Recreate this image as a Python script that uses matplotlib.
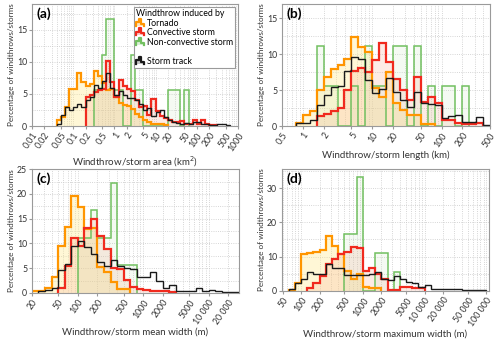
import numpy as np
import matplotlib
matplotlib.use("Agg")
import matplotlib.pyplot as plt
from matplotlib.lines import Line2D
from matplotlib.patches import Polygon
from matplotlib.legend_handler import HandlerBase
from matplotlib.ticker import FixedLocator, FixedFormatter, LogLocator, NullFormatter, MultipleLocator

plt.rcParams['font.family'] = ['Lato', 'DejaVu Sans']

# ---- data: histograms on log10 bins of 0.1 decade; *_start = log10 of first bin edge ----
# (a) windthrow/storm area (km2)
a_tornado_start = -1.4
a_tornado = [0.9, 1.4, 3.0, 5.7, 5.7, 8.3, 6.8, 6.2, 6.6, 8.6, 7.8, 6.7, 5.6, 5.7, 4.6,
             3.6, 3.3, 3.2, 2.6, 1.9, 1.4, 1.0, 0.7, 0.4, 0.4, 0.3, 0.2]
a_conv_start = -0.7
a_conv = [4.5, 4.9, 5.3, 5.6, 5.8, 10.2, 6.8, 4.6, 7.2, 6.3, 5.7, 5.5, 4.1, 3.0, 3.1, 1.8,
          4.2, 2.4, 1.5, 1.2, 0.9, 0.7, 0.7, 0.8, 0.4, 0.4, 0.9, 0.4, 1.0, 0.4, 0.2, 0.2]
a_nonconv_start = -0.5
a_nonconv = [5.6, 5.6, 11.1, 16.7, 16.7, 5.6, 5.6, 0, 0, 11.1, 5.6, 5.6, 0, 0, 0, 0, 0, 0,
             5.6, 5.6, 5.6, 0, 5.6]
a_track_start = -1.4
a_track = [0.3, 1.8, 2.9, 2.5, 3.0, 3.4, 3.0, 4.0, 4.6, 6.4, 6.0, 7.0, 8.2, 5.9, 4.9, 5.4,
           4.8, 4.4, 4.3, 4.0, 3.4, 2.5, 2.8, 1.6, 2.2, 2.5, 1.4, 0.9, 0.6, 0.5, 0.3, 0.5,
           0.3, 0.6, 0.7, 0.3, 0.4, 0.2, 0.2, 0.3, 0.3, 0.2]

# (b) windthrow/storm length (km)
b_tornado_start = -0.1
b_tornado = [0.5, 1.6, 2.1, 5.0, 6.8, 7.9, 8.5, 9.3, 12.4, 11.0, 10.3, 5.3, 4.1, 7.5, 3.2,
             2.3, 1.5, 1.5, 0.3, 0.3]
b_conv_start = 0.2
b_conv = [1.4, 1.65, 2.1, 2.5, 5.0, 7.7, 8.1, 7.5, 9.2, 11.6, 8.9, 6.5, 5.0, 3.7, 6.8, 3.4,
          4.1, 3.2, 0.8, 0.8, 0.5, 0.3, 0.3, 0.5]
b_nonconv_start = 0.2
b_nonconv = [11.1, 5.6, 5.6, 0, 0, 5.6, 0, 11.1, 5.6, 5.6, 0, 11.1, 11.1, 0, 11.1, 0,
             5.6, 0, 5.6, 5.6, 0, 5.6]
b_track_start = -0.1
b_track = [0.4, 0.4, 0.9, 2.9, 4.3, 5.4, 5.6, 7.7, 9.6, 9.3, 6.4, 4.6, 5.2, 6.7, 4.7, 3.6,
           2.7, 4.7, 3.2, 3.1, 3.0, 1.1, 1.4, 1.5, 0.6, 0.6, 1.2, 0.2]

# (c) windthrow/storm mean width (m)
c_tornado_start = 1.3
c_tornado = [0.3, 0.3, 0.9, 3.3, 9.4, 13.4, 19.5, 17.3, 13.0, 13.1, 5.3, 4.3, 2.3, 0.7, 0.7]
c_conv_start = 1.7
c_conv = [1.0, 5.5, 11.0, 9.5, 13.2, 15.0, 11.5, 8.8, 5.1, 4.8, 2.7, 1.1, 0.8, 0.5, 0.4,
          0.3, 0.3, 0.2]
c_nonconv_start = 2.0
c_nonconv = [11.1, 11.1, 16.7, 11.1, 11.1, 22.2, 5.6, 5.6, 5.6]
c_track_start = 1.4
c_track = [0.3, 0.5, 0.9, 4.6, 5.8, 9.5, 10.5, 9.3, 7.8, 6.2, 5.5, 6.6, 5.5, 5.0, 4.8, 3.3,
           3.3, 4.3, 2.5, 1.0, 1.6, 0.4, 0.4, 0.3, 1.0, 0.4, 0.6, 0.3, 0.2, 0.2, 0.2]

# (d) windthrow/storm maximum width (m)
d_tornado_start = 1.8
d_tornado = [0.3, 2.2, 10.7, 11.0, 11.3, 12.0, 15.9, 13.1, 10.7, 5.8, 3.5, 4.9, 1.0, 0.8, 0.8]
d_conv_start = 2.1
d_conv = [0.8, 2.3, 4.3, 7.8, 9.3, 10.8, 11.3, 12.9, 12.5, 5.8, 6.6, 5.0, 3.5, 0.3, 0.3,
          1.1, 1.2, 0.8, 0.8]
d_nonconv_start = 2.7
d_nonconv = [16.7, 16.7, 33.3, 0, 0, 11.1, 11.1, 0, 5.6]
d_track_start = 1.8
d_track = [0.5, 2.3, 3.6, 5.4, 4.9, 5.0, 7.9, 6.8, 6.8, 4.6, 4.5, 4.6, 4.7, 5.0, 5.4, 3.5,
           3.3, 4.2, 3.6, 2.7, 2.2, 1.1, 1.7, 0.6, 0.5, 0.4, 0.4, 0.4, 0.3, 0.3, 0.2, 0.3]

a_ticks = [0.01, 0.02, 0.05, 0.1, 0.2, 0.5, 1, 2, 5, 10, 20, 50, 100, 200, 500, 1000]
a_ticklabels = ['0.01', '0.02', '0.05', '0.1', '0.2', '0.5', '1', '2', '5', '10', '20', '50',
                '100', '200', '500', '1000']
b_ticks = [0.5, 1, 2, 5, 10, 20, 50, 100, 200, 500]
b_ticklabels = ['0.5', '1', '2', '5', '10', '20', '50', '100', '200', '500']
c_ticks = [20, 50, 100, 200, 500, 1000, 2000, 5000, 10000, 20000]
c_ticklabels = ['20', '50', '100', '200', '500', '1000', '2000', '5000', '10 000', '20 000']
d_ticks = [50, 100, 200, 500, 1000, 2000, 5000, 10000, 20000, 50000, 100000]
d_ticklabels = ['50', '100', '200', '500', '1000', '2000', '5000', '10 000', '20 000',
                '50 000', '100 000']

C_ORANGE = '#ff9500'
C_RED = '#f02a1e'
C_GREEN = '#72c060'
C_BLACK = '#1a1a1a'


def edges(start, n):
    return 10 ** (start + 0.1 * np.arange(n + 1))


class StepHandler(HandlerBase):
    def create_artists(self, legend, orig_handle, xdescent, ydescent, width, height,
                       fontsize, trans):
        xs = np.array([0, 0, 0.35, 0.35, 0.65, 0.65, 1, 1]) * width - xdescent
        ys = np.array([0, 0.55, 0.55, 1.05, 1.05, 0.3, 0.3, 0]) * height - ydescent
        poly = Polygon(np.column_stack([xs, ys]), closed=True, facecolor=orig_handle.get_color(),
                       edgecolor='none', alpha=0.25, transform=trans)
        ln = Line2D(xs, ys, color=orig_handle.get_color(), lw=1.6, transform=trans)
        return [poly, ln]


def panel(ax, series, xlim, ylim, ymaj, ymin, ticks, ticklabels, xlabel, tag):
    (ts, tv), (cs, cv), (ns, nv), (ks, kv) = series
    ax.stairs(tv, edges(ts, len(tv)), fill=True, color='#ffe98a', alpha=0.35, lw=0)
    ax.stairs(cv, edges(cs, len(cv)), fill=True, color='#f7a58c', alpha=0.22, lw=0)
    ax.stairs(nv, edges(ns, len(nv)), fill=True, color='#bfe3b4', alpha=0.15, lw=0)
    ax.stairs(nv, edges(ns, len(nv)), color=C_GREEN, lw=1.1)
    ax.stairs(tv, edges(ts, len(tv)), color=C_ORANGE, lw=1.6)
    ax.stairs(cv, edges(cs, len(cv)), color=C_RED, lw=1.6)
    ax.stairs(kv, edges(ks, len(kv)), color=C_BLACK, lw=1.0)
    ax.set_xscale('log')
    ax.set_xlim(*xlim)
    ax.set_ylim(*ylim)
    ax.xaxis.set_major_locator(FixedLocator(ticks))
    ax.xaxis.set_major_formatter(FixedFormatter(ticklabels))
    ax.xaxis.set_minor_locator(LogLocator(base=10, subs=np.arange(2, 10), numticks=60))
    ax.xaxis.set_minor_formatter(NullFormatter())
    ax.yaxis.set_major_locator(MultipleLocator(ymaj))
    ax.yaxis.set_minor_locator(MultipleLocator(ymin))
    ax.grid(which='both', color='#c8c8c8', ls=':', lw=0.6)
    ax.set_axisbelow(True)
    for s in ax.spines.values():
        s.set_color('#9a9a9a')
        s.set_linewidth(0.8)
    ax.tick_params(which='major', labelsize=6.3, length=2, color='#9a9a9a',
                   labelcolor='#333333', pad=1.5)
    ax.tick_params(which='minor', length=0)
    for lab in ax.get_xticklabels():
        lab.set_rotation(55)
        lab.set_ha('right')
        lab.set_rotation_mode('anchor')
    ax.set_xlabel(xlabel, fontsize=7, color='#333333', labelpad=1)
    ax.set_ylabel('Percentage of windthrows/storms', fontsize=5.9, color='#333333', labelpad=1.5)
    ax.text(0.02, 0.975, tag, transform=ax.transAxes, fontsize=10, fontweight='bold',
            va='top', ha='left')


fig = plt.figure(figsize=(5, 3.39), dpi=100)
ax_a = fig.add_axes([0.064, 0.628, 0.412, 0.360])
ax_b = fig.add_axes([0.564, 0.628, 0.416, 0.360])
ax_c = fig.add_axes([0.064, 0.136, 0.414, 0.365])
ax_d = fig.add_axes([0.564, 0.142, 0.414, 0.359])

panel(ax_a, [(a_tornado_start, a_tornado), (a_conv_start, a_conv),
             (a_nonconv_start, a_nonconv), (a_track_start, a_track)],
      (0.01, 1000), (0, 19), 5, 2.5, a_ticks, a_ticklabels,
      'Windthrow/storm area (km$^2$)', '(a)')
panel(ax_b, [(b_tornado_start, b_tornado), (b_conv_start, b_conv),
             (b_nonconv_start, b_nonconv), (b_track_start, b_track)],
      (0.5, 500), (0, 17), 5, 2.5, b_ticks, b_ticklabels,
      'Windthrow/storm length (km)', '(b)')
panel(ax_c, [(c_tornado_start, c_tornado), (c_conv_start, c_conv),
             (c_nonconv_start, c_nonconv), (c_track_start, c_track)],
      (20, 29000), (0, 25), 5, 2.5, c_ticks, c_ticklabels,
      'Windthrow/storm mean width (m)', '(c)')
panel(ax_d, [(d_tornado_start, d_tornado), (d_conv_start, d_conv),
             (d_nonconv_start, d_nonconv), (d_track_start, d_track)],
      (49, 110000), (0, 35.5), 10, 5, d_ticks, d_ticklabels,
      'Windthrow/storm maximum width (m)', '(d)')

# legend
h_t = Line2D([], [], color=C_ORANGE)
h_c = Line2D([], [], color=C_RED)
h_n = Line2D([], [], color=C_GREEN)
h_k = Line2D([], [], color=C_BLACK)
h_blank = Line2D([], [], color='none')
step = StepHandler()
leg = ax_a.legend([h_t, h_c, h_n, h_blank, h_k],
                  ['Tornado', 'Convective storm', 'Non-convective storm', ' ', 'Storm track'],
                  handler_map={h_t: step, h_c: step, h_n: step, h_k: step},
                  title='Windthrow induced by', title_fontsize=6.3, fontsize=6.3,
                  loc='upper right', bbox_to_anchor=(1.0, 1.0), borderaxespad=0.3,
                  fancybox=False, framealpha=1, edgecolor='#9a9a9a',
                  handlelength=0.9, handleheight=0.8, handletextpad=0.3,
                  labelspacing=0.05, borderpad=0.3, alignment='left')
leg.get_frame().set_linewidth(0.8)

fig.savefig('out.png', dpi=100)
